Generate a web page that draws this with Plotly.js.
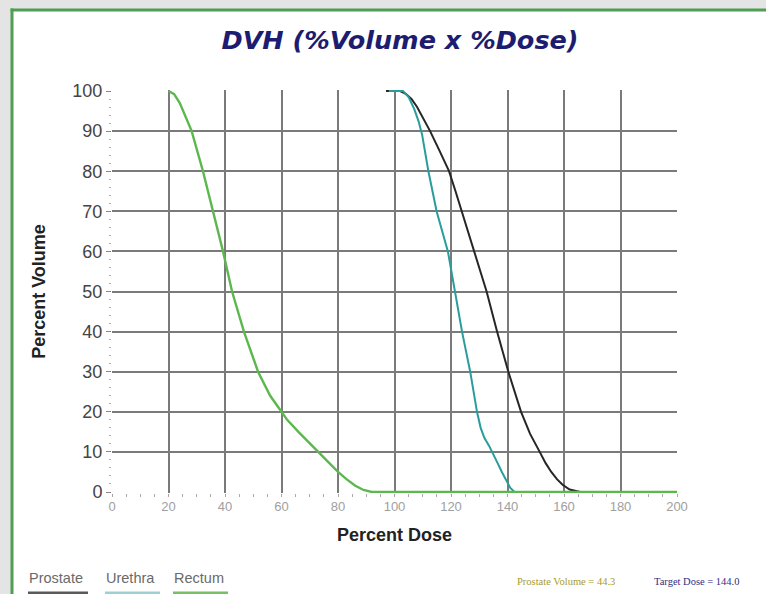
<!DOCTYPE html>
<html>
<head>
<meta charset="utf-8">
<script src="https://cdn.plot.ly/plotly-3.0.1.min.js"></script>
<style>
html,body{margin:0;padding:0;background:#fff;}
#chart{width:766px;height:594px;}
</style>
</head>
<body>
<div id="chart"></div>
<script>
// Data
var prostateDose   = [97, 102, 104, 106, 108, 110, 112.6, 116, 119.3, 121.6, 123.8, 128.1, 132.6, 136.3, 140.3, 144.8, 148, 151.4, 153.5, 155.5, 157.5, 159.5, 162, 165.8, 170];
var prostateVolume = [100, 100, 99.3, 98, 96, 93.5, 90, 85, 80, 75, 70, 60, 50, 40, 30, 20, 14.5, 10, 7.2, 5, 3.2, 1.8, 0.6, 0, 0];

var urethraDose    = [98, 103, 105, 107, 108.5, 109.8, 112, 114.9, 118.9, 121.4, 123.9, 126.8, 129.2, 130.5, 131.8, 133.5, 135, 136.5, 138, 139.5, 141, 142.5, 144];
var urethraVolume  = [100, 100, 98.5, 95.5, 92.5, 89, 80, 70, 60, 50, 40, 30, 20, 16, 13.5, 11.5, 9.5, 7.2, 5, 2.8, 1, 0, 0];

var rectumDose     = [20, 22, 24, 26, 28.2, 32.2, 35.8, 39.3, 42.5, 46.7, 51.7, 56, 60, 62, 66, 70, 73, 76.5, 80, 83, 86, 89, 92, 100, 200];
var rectumVolume   = [100, 99.2, 97, 93.8, 90, 80, 70, 60, 50, 40, 30, 24, 20, 18, 15, 12, 10, 7.5, 5, 3.2, 1.6, 0.5, 0, 0, 0];

var seriesNames  = ["Prostate", "Urethra", "Rectum"];
var xTickVals    = [0, 20, 40, 60, 80, 100, 120, 140, 160, 180, 200];
var yTickVals    = [0, 10, 20, 30, 40, 50, 60, 70, 80, 90, 100];
var infoTexts    = ["Prostate Volume = 44.3", "Target Dose = 144.0"];

var lineColors = ["#262626", "#2a9c9c", "#5cb84e"];
var barColors  = ["#5a5a5a", "#9fcfd0", "#79bf6a"];

var traces = [
  {x: prostateDose, y: prostateVolume, name: seriesNames[0], mode: "lines", line: {color: lineColors[0], width: 2}},
  {x: urethraDose,  y: urethraVolume,  name: seriesNames[1], mode: "lines", line: {color: lineColors[1], width: 2}},
  {x: rectumDose,   y: rectumVolume,   name: seriesNames[2], mode: "lines", line: {color: lineColors[2], width: 2.4}}
];

// helpers for paper coords (plot area: x 112..677, y 91..492)
function px(x){ return (x - 112) / 565; }
function py(y){ return (492 - y) / 401; }

var shapes = [
  {type: "rect", xref: "paper", yref: "paper", x0: px(12), x1: px(800), y0: py(11), y1: py(640), fillcolor: "#ffffff", line: {width: 0}, layer: "below"},
  {type: "line", xref: "paper", yref: "paper", x0: px(10.5), x1: px(800), y0: py(11.5), y1: py(11.5), line: {color: "#4f9e52", width: 3}},
  {type: "line", xref: "paper", yref: "paper", x0: px(12), x1: px(12), y0: py(10), y1: py(640), line: {color: "#4f9e52", width: 3}}
];
var legX = [[28, 88], [105, 160], [173, 228]];
for (var i = 0; i < 3; i++) {
  shapes.push({type: "line", xref: "paper", yref: "paper", x0: px(legX[i][0]), x1: px(legX[i][1]), y0: py(592), y1: py(592), line: {color: barColors[i], width: 4}});
}

var annotations = [];
for (var j = 0; j < 3; j++) {
  annotations.push({text: seriesNames[j], xref: "paper", yref: "paper", x: px(legX[j][0] - 1), y: py(577), xanchor: "left", yanchor: "middle", showarrow: false,
    font: {family: "Liberation Sans, Arial, sans-serif", size: 14.5, color: "#6a6a6a"}});
}
annotations.push({text: infoTexts[0], xref: "paper", yref: "paper", x: px(515), y: py(580), xanchor: "left", yanchor: "middle", showarrow: false,
  font: {family: "Liberation Serif, Times New Roman, serif", size: 10.5, color: "#a89a2c"}});
annotations.push({text: infoTexts[1], xref: "paper", yref: "paper", x: px(652), y: py(580), xanchor: "left", yanchor: "middle", showarrow: false,
  font: {family: "Liberation Serif, Times New Roman, serif", size: 10.5, color: "#2e2e86"}});

var layout = {
  width: 766, height: 594,
  margin: {l: 112, r: 89, t: 90, b: 101, pad: 0},
  paper_bgcolor: "#e4e4e4",
  plot_bgcolor: "#ffffff",
  showlegend: false,
  title: {text: "<b><i>DVH (%Volume x %Dose)</i></b>", x: 400/766, xref: "container", y: 1 - 40/594, yref: "container", yanchor: "middle", xanchor: "center",
    font: {family: "DejaVu Sans, Verdana, sans-serif", size: 25.5, color: "#1c1c70"}},
  xaxis: {
    range: [0, 200], tickvals: xTickVals, ticktext: xTickVals.map(String),
    showgrid: true, gridcolor: "#7a7a7a", gridwidth: 2, zeroline: false,
    showline: false,
    ticks: "outside", ticklen: 1, tickcolor: "#999",
    minor: {dtick: 5, ticks: "outside", ticklen: 3, tickcolor: "#aaa", showgrid: false},
    tickfont: {family: "Liberation Sans, Arial, sans-serif", size: 13, color: "#a0a0a0"},
    title: {text: "<b>Percent Dose</b>", standoff: 15, font: {family: "Liberation Sans, Arial, sans-serif", size: 18, color: "#222"}},
    automargin: false, fixedrange: true
  },
  yaxis: {
    range: [-0.25, 100.25], tickvals: yTickVals, ticktext: yTickVals.map(String),
    showgrid: true, gridcolor: "#7a7a7a", gridwidth: 2, zeroline: false,
    showline: false,
    ticks: "outside", ticklen: 5, tickcolor: "#888",
    minor: {dtick: 2, ticks: "outside", ticklen: 2, tickcolor: "#aaa", showgrid: false},
    tickfont: {family: "Liberation Sans, Arial, sans-serif", size: 18, color: "#444"},
    title: {text: "<b>Percent Volume</b>", standoff: 22, font: {family: "Liberation Sans, Arial, sans-serif", size: 18, color: "#222"}},
    automargin: false, fixedrange: true
  },
  shapes: shapes,
  annotations: annotations
};

Plotly.newPlot("chart", traces, layout, {displayModeBar: false, staticPlot: true});
</script>
</body>
</html>
